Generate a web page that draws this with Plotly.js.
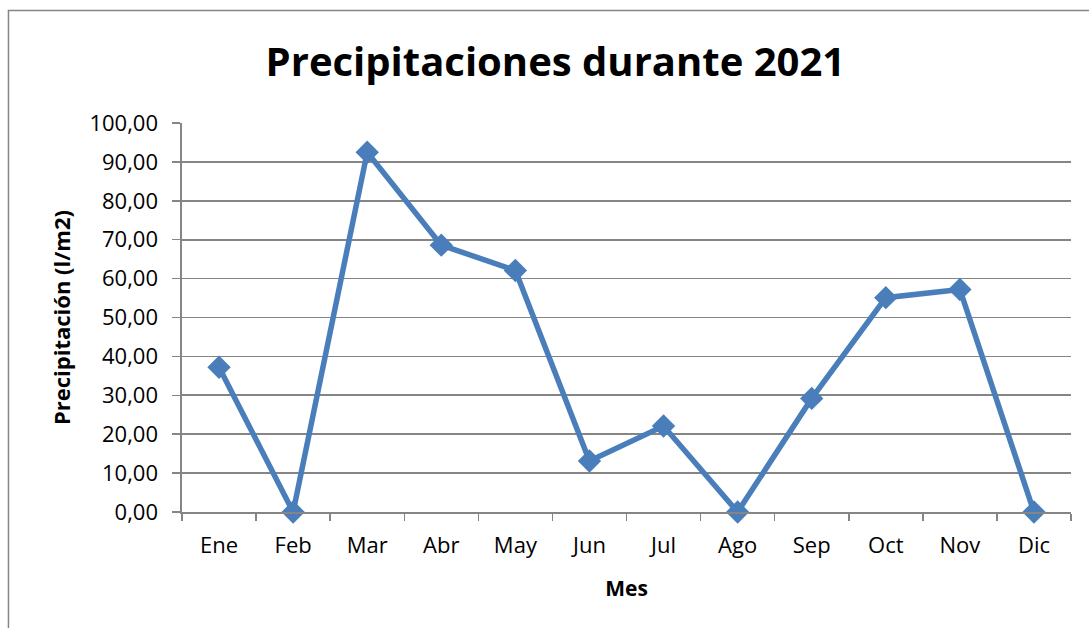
<!DOCTYPE html>
<html>
<head>
<meta charset="utf-8">
<script src="https://cdn.plot.ly/plotly-3.0.1.min.js"></script>
<style>html,body{margin:0;padding:0;background:#fff;}#chart{width:1089px;height:628px;}</style>
</head>
<body>
<div id="chart"></div>
<script>
const meses = ["Ene","Feb","Mar","Abr","May","Jun","Jul","Ago","Sep","Oct","Nov","Dic"];
const precipitacion = [37.2, 0, 92.5, 68.6, 62.1, 13.1, 22.1, 0, 29.2, 55.1, 57.2, 0];
const tituloGrafico = "Precipitaciones durante 2021";
const tituloX = "Mes";
const tituloY = "Precipitación (l/m2)";

const azul = "#4a7ebb";
const gris = "#858585";

const trace = {
  x: meses,
  y: precipitacion,
  type: "scatter",
  mode: "lines+markers",
  cliponaxis: false,
  line: {color: azul, width: 5.5},
  marker: {symbol: "diamond", size: 18, color: azul},
  hoverinfo: "x+y"
};

const layout = {
  width: 1089,
  height: 628,
  margin: {l: 182, r: 18, t: 123, b: 116},
  paper_bgcolor: "#ffffff",
  plot_bgcolor: "#ffffff",
  separators: ",.",
  showlegend: false,
  font: {family: "Open Sans, sans-serif", color: "#000000", size: 22},
  title: {
    text: "<b>" + tituloGrafico + "</b>",
    font: {family: "Open Sans, sans-serif", size: 40, color: "#000000"},
    xref: "container", x: 0.51, xanchor: "center",
    yref: "container", y: 0.901, yanchor: "middle"
  },
  xaxis: {
    type: "category",
    range: [-0.5, 11.5],
    tickson: "boundaries",
    ticks: "outside",
    ticklen: 7,
    tickwidth: 1.5,
    tickcolor: gris,
    showgrid: false,
    showline: true,
    linecolor: gris,
    linewidth: 1.5,
    zeroline: false,
    tickfont: {family: "Open Sans, sans-serif", size: 22, color: "#000"},
    ticklabelstandoff: 13,
    title: {text: "<b>" + tituloX + "</b>", font: {family: "Open Sans, sans-serif", size: 21, color: "#000"}, standoff: 23},
    fixedrange: true
  },
  yaxis: {
    range: [0, 100],
    dtick: 10,
    tick0: 0,
    tickformat: ".2f",
    ticks: "outside",
    ticklen: 8,
    tickwidth: 1.5,
    tickcolor: gris,
    showgrid: true,
    gridcolor: gris,
    gridwidth: 1.6,
    showline: true,
    linecolor: gris,
    linewidth: 1.6,
    zeroline: false,
    tickfont: {family: "Open Sans, sans-serif", size: 22, color: "#000"},
    ticklabelstandoff: 10,
    title: {text: "<b>" + tituloY + "</b>", font: {family: "Open Sans, sans-serif", size: 22, color: "#000"}, standoff: 13},
    fixedrange: true
  },
  shapes: [{
    type: "rect", xref: "paper", yref: "paper",
    x0: -0.1952, x1: 1.04, y0: -0.34, y1: 1.2892,
    line: {color: gris, width: 1.5},
    fillcolor: "rgba(0,0,0,0)",
    layer: "below"
  }]
};

Plotly.newPlot("chart", [trace], layout, {displayModeBar: false, staticPlot: true});
</script>
</body>
</html>
